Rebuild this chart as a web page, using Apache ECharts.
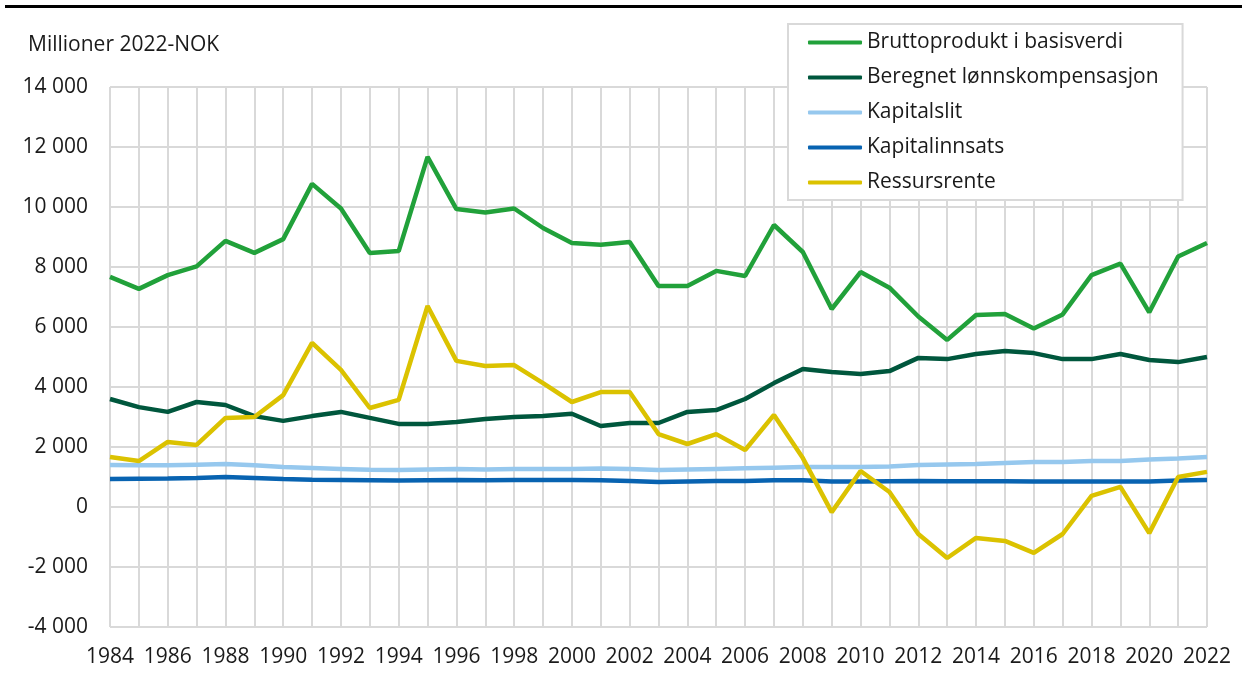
<!DOCTYPE html>
<html>
<head>
<meta charset="utf-8">
<script src="https://cdn.jsdelivr.net/npm/echarts@6/dist/echarts.min.js"></script>
<style>
  html, body { margin: 0; padding: 0; background: #fff; }
  #chart { width: 1242px; height: 673px; }
</style>
</head>
<body>
<div id="chart"></div>
<script>
  var years = ['1984','1985','1986','1987','1988','1989','1990','1991','1992','1993',
               '1994','1995','1996','1997','1998','1999','2000','2001','2002','2003',
               '2004','2005','2006','2007','2008','2009','2010','2011','2012','2013',
               '2014','2015','2016','2017','2018','2019','2020','2021','2022'];

  var bruttoprodukt = [7670, 7270, 7730, 8020, 8870, 8470, 8930, 10770, 9950, 8470,
                       8530, 11670, 9930, 9820, 9950, 9300, 8800, 8740, 8830, 7370,
                       7370, 7870, 7700, 9400, 8500, 6600, 7830, 7310, 6350, 5570,
                       6400, 6430, 5950, 6420, 7730, 8110, 6490, 8350, 8800];

  var lonnskompensasjon = [3600, 3330, 3170, 3500, 3400, 3030, 2870, 3030, 3170, 2970,
                           2770, 2770, 2830, 2930, 3000, 3030, 3110, 2700, 2800, 2800,
                           3170, 3230, 3600, 4130, 4600, 4500, 4430, 4530, 4970, 4930,
                           5100, 5200, 5130, 4930, 4930, 5100, 4900, 4830, 5000];

  var kapitalslit = [1400, 1390, 1390, 1410, 1430, 1390, 1330, 1300, 1270, 1240,
                     1230, 1250, 1270, 1250, 1270, 1270, 1270, 1280, 1270, 1230,
                     1250, 1270, 1290, 1310, 1330, 1330, 1330, 1350, 1400, 1420,
                     1430, 1470, 1500, 1500, 1530, 1530, 1580, 1620, 1670];

  var kapitalinnsats = [930, 940, 950, 970, 1000, 970, 930, 910, 900, 890,
                        880, 890, 900, 890, 900, 900, 900, 890, 870, 830,
                        850, 870, 870, 890, 890, 850, 850, 860, 870, 860,
                        860, 860, 850, 850, 850, 850, 850, 880, 900];

  var ressursrente = [1670, 1530, 2170, 2070, 2970, 3000, 3730, 5470, 4570, 3300,
                      3570, 6700, 4870, 4700, 4730, 4130, 3500, 3830, 3830, 2430,
                      2100, 2430, 1900, 3070, 1630, -170, 1200, 500, -900, -1700,
                      -1030, -1130, -1530, -900, 370, 670, -870, 1000, 1170];

  var seriesNames = ['Bruttoprodukt i basisverdi', 'Beregnet lønnskompensasjon',
                     'Kapitalslit', 'Kapitalinnsats', 'Ressursrente'];
  var seriesColors = ['#21a13a', '#00573d', '#96c8ee', '#0863b1', '#dbc200'];
  var seriesData = [bruttoprodukt, lonnskompensasjon, kapitalslit, kapitalinnsats, ressursrente];

  var font = '"Open Sans", "Noto Sans", sans-serif';
  var gridColor = '#d9d9d9';
  var textColor = '#1a1a1a';

  function fmt(v) {
    var s = Math.abs(v).toString().replace(/\B(?=(\d{3})+(?!\d))/g, ' ');
    return (v < 0 ? '-' : '') + s;
  }

  var chart = echarts.init(document.getElementById('chart'));
  chart.setOption({
    animation: false,
    backgroundColor: '#fff',
    textStyle: { fontFamily: font, color: textColor },
    title: {
      text: 'Millioner 2022-NOK',
      left: 23,
      top: 30,
      textStyle: { fontFamily: font, fontSize: 21, fontWeight: 'normal', color: textColor }
    },
    graphic: [
      { type: 'rect', shape: { x: 5, y: 5, width: 1237, height: 3 }, style: { fill: '#000' } }
    ],
    legend: {
      left: 788,
      top: 24,
      orient: 'vertical',
      backgroundColor: '#fff',
      borderColor: gridColor,
      borderWidth: 2,
      padding: [8, 24, 7, 20],
      itemGap: 14,
      itemWidth: 54,
      itemHeight: 4,
      itemTextGap: 4,
      icon: 'roundRect',
      textStyle: { fontFamily: font, fontSize: 21, color: textColor, lineHeight: 21 },
      data: seriesNames
    },
    grid: { left: 110, right: 35, top: 87, bottom: 46, containLabel: false },
    xAxis: {
      type: 'category',
      data: years,
      boundaryGap: false,
      axisLine: { lineStyle: { color: gridColor, width: 2 } },
      axisTick: { show: false },
      axisLabel: { interval: 1, margin: 20, fontFamily: font, fontSize: 21, color: textColor },
      splitLine: { show: true, interval: 0, lineStyle: { color: gridColor, width: 2 } }
    },
    yAxis: {
      type: 'value',
      min: -4000,
      max: 14000,
      interval: 2000,
      axisLine: { show: false },
      axisTick: { show: false },
      axisLabel: { margin: 22, fontFamily: font, fontSize: 21, color: textColor, formatter: fmt },
      splitLine: { lineStyle: { color: gridColor, width: 2 } }
    },
    series: seriesNames.map(function (name, i) {
      return {
        name: name,
        type: 'line',
        data: seriesData[i],
        showSymbol: false,
        symbol: 'none',
        color: seriesColors[i],
        lineStyle: { width: 4.5, color: seriesColors[i] },
        z: 2 + i
      };
    })
  });
</script>
</body>
</html>
